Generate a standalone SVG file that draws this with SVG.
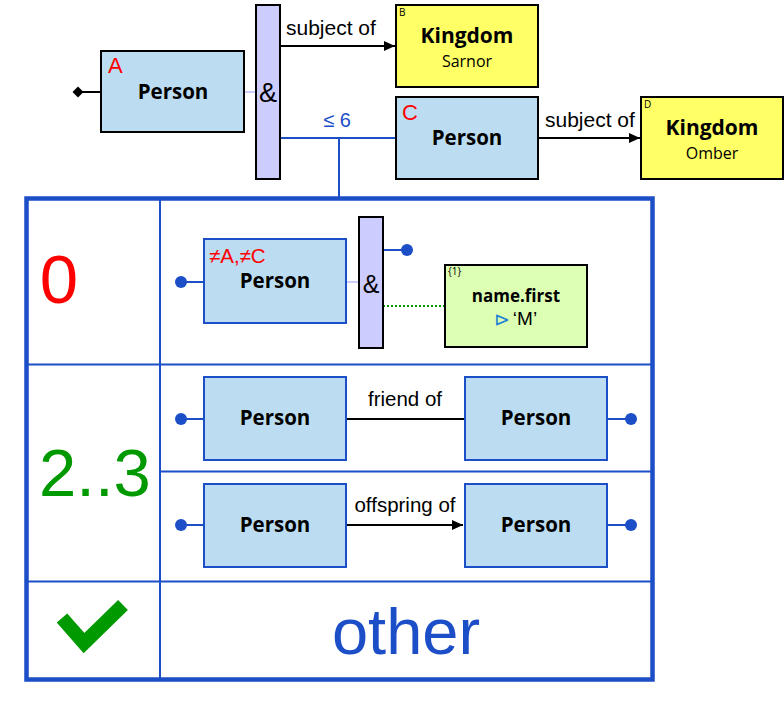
<svg xmlns="http://www.w3.org/2000/svg" width="784" height="710" viewBox="0 0 784 710">
<defs>
<style>
.pb{fill:#bbdcf1;stroke:#000;stroke-width:2}
.pbb{fill:#bbdcf1;stroke:#1c4ec8;stroke-width:2}
.kb{fill:#ffff66;stroke:#000;stroke-width:2}
.amp{fill:#ccccff;stroke:#000;stroke-width:2}
.nb{fill:#ddffb3;stroke:#000;stroke-width:2}
.bold{font-family:"Open Sans","Noto Sans",sans-serif;font-weight:bold;fill:#000;text-anchor:middle}
.reg{font-family:"Open Sans","Noto Sans",sans-serif;fill:#000;text-anchor:middle}
.ar{font-family:"Liberation Sans",Arial,sans-serif;fill:#000}
.tiny{font-family:"Open Sans","Noto Sans",sans-serif;font-size:10px;fill:#000}
.red{font-family:"Liberation Sans",Arial,sans-serif;fill:#ff0000}
.bl{stroke:#1c4ec8;stroke-width:2;fill:none}
.blk{stroke:#000;stroke-width:2;fill:none}
.dot{fill:#1c4ec8}
</style>
<marker id="arr" markerWidth="12" markerHeight="12" refX="11" refY="5" orient="auto" markerUnits="userSpaceOnUse">
<path d="M0,0 L11,5 L0,10 z" fill="#000"/>
</marker>
</defs>

<!-- Table -->
<g id="table">
<rect x="26.5" y="198.5" width="626" height="481" fill="#fff" stroke="#1c4ec8" stroke-width="4.5"/>
<line x1="160" y1="198" x2="160" y2="680" stroke="#1c4ec8" stroke-width="2"/>
<line x1="26" y1="364.5" x2="653" y2="364.5" stroke="#1c4ec8" stroke-width="2"/>
<line x1="160" y1="471.5" x2="653" y2="471.5" stroke="#1c4ec8" stroke-width="2"/>
<line x1="26" y1="581.5" x2="653" y2="581.5" stroke="#1c4ec8" stroke-width="2"/>
<text x="59" y="303" font-family="Liberation Sans,Arial,sans-serif" font-size="69" fill="#ff0000" text-anchor="middle">0</text>
<text x="95" y="496" font-family="Liberation Sans,Arial,sans-serif" font-size="67" fill="#009900" text-anchor="middle">2..3</text>
<polyline points="62,618 84,643 123,605" fill="none" stroke="#009900" stroke-width="14"/>
<text x="406" y="654" font-family="Liberation Sans,Arial,sans-serif" font-size="65" fill="#1c4ec8" text-anchor="middle">other</text>
</g>

<!-- Connectors -->
<g id="connectors">
<line x1="78" y1="92" x2="101" y2="92" class="blk"/>
<polygon points="72.5,92 78,86.5 83.5,92 78,97.5" fill="#000"/>
<line x1="244" y1="92" x2="256" y2="92" stroke="#ccccff" stroke-width="2"/>
<line x1="280" y1="46" x2="395" y2="46" class="blk" marker-end="url(#arr)"/>
<text x="286" y="35" class="ar" font-size="21">subject of</text>
<polyline points="280,138 396,138" class="bl"/>
<line x1="339" y1="138" x2="339" y2="197" class="bl"/>
<text x="337" y="127" font-family="Liberation Sans,Arial,sans-serif" font-size="20" fill="#1c4ec8" text-anchor="middle">≤ 6</text>
<line x1="538" y1="138" x2="640" y2="138" class="blk" marker-end="url(#arr)"/>
<text x="545" y="127" class="ar" font-size="21">subject of</text>

<!-- row 1 -->
<line x1="181" y1="282" x2="204" y2="282" class="bl"/>
<circle cx="181" cy="282" r="6" class="dot"/>
<line x1="346" y1="282" x2="359" y2="282" stroke="#ccccff" stroke-width="2"/>
<line x1="383" y1="250" x2="407" y2="250" class="bl"/>
<circle cx="407" cy="250" r="6" class="dot"/>
<line x1="383" y1="306" x2="445" y2="306" stroke="#009900" stroke-width="2" stroke-dasharray="2,2"/>

<!-- row 2 -->
<line x1="181" y1="419" x2="204" y2="419" class="bl"/>
<circle cx="181" cy="419" r="6" class="dot"/>
<line x1="346" y1="419" x2="464" y2="419" class="blk"/>
<text x="405" y="406" class="ar" font-size="20.5" text-anchor="middle">friend of</text>
<line x1="607" y1="419" x2="631" y2="419" class="bl"/>
<circle cx="631" cy="419" r="6" class="dot"/>

<!-- row 3 -->
<line x1="181" y1="525" x2="204" y2="525" class="bl"/>
<circle cx="181" cy="525" r="6" class="dot"/>
<line x1="346" y1="525" x2="463" y2="525" class="blk" marker-end="url(#arr)"/>
<text x="405" y="512" class="ar" font-size="20.5" text-anchor="middle">offspring of</text>
<line x1="607" y1="525" x2="631" y2="525" class="bl"/>
<circle cx="631" cy="525" r="6" class="dot"/>
</g>

<!-- Nodes -->
<g id="personA">
<rect x="101" y="51" width="143" height="81" class="pb"/>
<text x="108" y="73" class="red" font-size="22">A</text>
<text x="173" y="99" class="bold" font-size="20.5">Person</text>
</g>
<g id="and1">
<rect x="256" y="5" width="24" height="174" class="amp"/>
<text x="268" y="102" class="ar" font-size="27" text-anchor="middle">&amp;</text>
</g>
<g id="kingdomB">
<rect x="396" y="5" width="142" height="82" class="kb"/>
<text x="399" y="16" class="tiny">B</text>
<text x="467" y="43" class="bold" font-size="21">Kingdom</text>
<text x="467" y="67" class="reg" font-size="16">Sarnor</text>
</g>
<g id="personC">
<rect x="396" y="97" width="142" height="82" class="pb"/>
<text x="402" y="120" class="red" font-size="22">C</text>
<text x="467" y="145" class="bold" font-size="20.5">Person</text>
</g>
<g id="kingdomD">
<rect x="641" y="97" width="142" height="82" class="kb"/>
<text x="644" y="108" class="tiny">D</text>
<text x="712" y="135" class="bold" font-size="21">Kingdom</text>
<text x="712" y="159" class="reg" font-size="16">Omber</text>
</g>

<g id="row1Person">
<rect x="204" y="239" width="142" height="84" class="pbb"/>
<text x="209" y="263" class="red" font-size="20.5">≠A,≠C</text>
<text x="275" y="288" class="bold" font-size="20.5">Person</text>
</g>
<g id="and2">
<rect x="359" y="217" width="24" height="131" class="amp"/>
<text x="371" y="293" class="ar" font-size="25" text-anchor="middle">&amp;</text>
</g>
<g id="nameFirst">
<rect x="445" y="265" width="142" height="82" class="nb"/>
<text x="448" y="275" class="tiny">{1}</text>
<text x="516" y="302" class="bold" font-size="17">name.first</text>
<text x="502" y="326" font-family="DejaVu Sans,sans-serif" font-size="19" fill="#1a7fd4" text-anchor="middle">⊳</text>
<text x="525" y="325" class="ar" font-size="19" text-anchor="middle">‘M’</text>
</g>

<g id="row2PersonL">
<rect x="204" y="377" width="142" height="83" class="pbb"/>
<text x="275" y="425" class="bold" font-size="20.5">Person</text>
</g>
<g id="row2PersonR">
<rect x="465" y="377" width="142" height="83" class="pbb"/>
<text x="536" y="425" class="bold" font-size="20.5">Person</text>
</g>
<g id="row3PersonL">
<rect x="204" y="484" width="142" height="83" class="pbb"/>
<text x="275" y="532" class="bold" font-size="20.5">Person</text>
</g>
<g id="row3PersonR">
<rect x="465" y="484" width="142" height="83" class="pbb"/>
<text x="536" y="532" class="bold" font-size="20.5">Person</text>
</g>
</svg>
